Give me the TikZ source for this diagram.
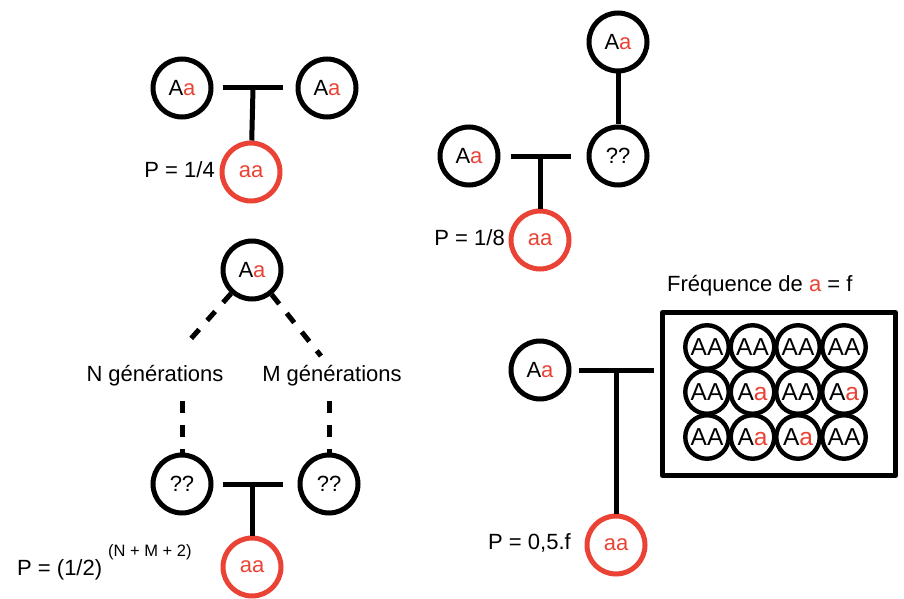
\documentclass[tikz,border=0pt]{standalone}
\usepackage{fontspec}
\setmainfont{Liberation Sans}
\usetikzlibrary{calc}
\definecolor{myred}{RGB}{234,67,53}
\newcommand{\redA}{\textcolor{myred}{a}}
\begin{document}
\begin{tikzpicture}[x=1pt,y=-1pt,
  ind/.style={circle, draw, line width=5pt, minimum size=58pt, inner sep=0pt, font=\fontsize{22}{24}\selectfont},
  aff/.style={ind, draw=myred, text=myred},
  pop/.style={circle, draw, line width=4.4pt, minimum size=43.5pt, inner sep=0pt, font=\fontsize{24.5}{26}\selectfont},
  link/.style={line width=5pt},
  dashline/.style={line width=5pt, dash pattern=on 12pt off 12pt},
  lbl/.style={inner sep=0pt, font=\fontsize{22}{24}\selectfont, text height=15.5pt, text depth=0pt}]
\useasboundingbox (0,0) rectangle (904,599);

% group 1
\node[ind] (g1a) at (182,88) {A\redA};
\node[ind] (g1b) at (327,88) {A\redA};
\node[aff] (g1c) at (251,172) {aa};
\coordinate (g1m) at (253,88);
\draw[link, shorten <=9pt, shorten >=12.5pt] (g1a) -- (g1b);
\draw[link] (g1m) -- (g1c);
\node[lbl, anchor=east] (p1) at (215,170) {P = 1/4};

% group 2
\node[ind] (g2t) at (618,42) {A\redA};
\node[ind] (g2q) at (618,156) {??};
\node[ind] (g2a) at (469,156) {A\redA};
\node[aff] (g2c) at (540,240) {aa};
\draw[link] (g2t) -- (g2q);
\draw[link, shorten <=10pt, shorten >=16pt] (g2a) -- (g2q);
\coordinate (g2m) at (540,156);
\draw[link] (g2m) -- (g2c);
\node[lbl, anchor=east] (p2) at (505,238) {P = 1/8};

% group 3
\node[ind] (g3t) at (252,270) {A\redA};
\node[ind] (g3l) at (182,484) {??};
\node[ind] (g3r) at (329,484) {??};
\node[aff] (g3c) at (252,567) {aa};
\coordinate (n1) at (188,342);
\coordinate (m1) at (321,356);
\coordinate (n2) at (182,401);
\coordinate (m2) at (329,401);
\draw[dashline] (g3t) -- (n1);
\draw[dashline] (g3t) -- (m1);
\draw[dashline] (n2) -- (g3l);
\draw[dashline] (m2) -- (g3r);
\node[lbl] (ng) at (155,374) {N générations};
\node[lbl] (mg) at (332,374) {M générations};
\draw[link, shorten <=9pt, shorten >=14.5pt] (g3l) -- (g3r);
\coordinate (g3m) at (252,484);
\draw[link] (g3m) -- (g3c);
\node[lbl, anchor=west] (p3) at (17,568) {P = (1/2)};
\node[inner sep=0pt, anchor=west, font=\fontsize{16.5}{18}\selectfont, text height=12pt, text depth=0pt] (p3e) at (108,550) {(N + M + 2)};

% group 4
\node[ind] (g4a) at (540,370) {A\redA};
\node[draw, line width=5pt, line join=round, minimum width=233pt, minimum height=163pt, inner sep=0pt] (box) at (779,394) {};
\node[aff] (g4c) at (616,545) {aa};
\draw[link, shorten <=7pt, shorten >=6pt] (g4a.east) -- (g4a.east -| box.west);
\coordinate (g4m) at (616,370);
\draw[link] (g4m) -- (g4c);
\node[lbl, anchor=west] (p4) at (488,542) {P = 0,5.f};
\node[lbl, anchor=west] (freq) at (667,283.5) {Fréquence de \redA{} = f};

\node[pop] (c11) at (707,347) {AA};
\node[pop] (c12) at (752.5,347) {AA};
\node[pop] (c13) at (798,347) {AA};
\node[pop] (c14) at (844,347) {AA};
\node[pop] (c21) at (707,392) {AA};
\node[pop] (c22) at (752.5,392) {A\redA};
\node[pop] (c23) at (798,392) {AA};
\node[pop] (c24) at (844,392) {A\redA};
\node[pop] (c31) at (707,437) {AA};
\node[pop] (c32) at (752.5,437) {A\redA};
\node[pop] (c33) at (798,437) {A\redA};
\node[pop] (c34) at (844,437) {AA};
\end{tikzpicture}
\end{document}
